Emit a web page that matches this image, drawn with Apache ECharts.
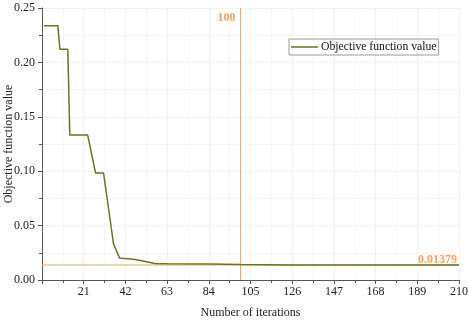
<!DOCTYPE html>
<html><head><meta charset="utf-8">
<script src="https://cdn.jsdelivr.net/npm/echarts@6/dist/echarts.min.js"></script>
<style>html,body{margin:0;padding:0;background:#fff}#c{width:469px;height:320px}</style>
</head><body><div id="c"></div>
<script>
const iterations = [1, 8, 9, 13, 14, 23, 27, 31, 36, 39, 47, 57, 63, 84, 100, 126, 147, 210];
const objectiveValues = [0.2338, 0.2338, 0.2121, 0.2121, 0.1332, 0.1332, 0.0983, 0.0983, 0.0333, 0.0203, 0.0188, 0.0152, 0.0149, 0.0146, 0.0143, 0.0139, 0.01379, 0.01379];
const markIteration = 100;
const markValue = 0.01379;
const seriesName = 'Objective function value';

const FONT = '"Liberation Serif", "Times New Roman", serif';
const ORANGE = '#f0a35e';
const OLIVE = '#66761c';
const chart = echarts.init(document.getElementById('c'), null, {renderer: 'canvas'});
chart.setOption({
  animation: false,
  backgroundColor: '#fff',
  grid: {left: 42, right: 10, top: 8, bottom: 40, containLabel: false, outerBoundsMode: 'none'},
  legend: {
    data: [seriesName], left: 289, top: 39, orient: 'horizontal',
    icon: 'rect', itemWidth: 27, itemHeight: 1.5, itemGap: 4,
    borderColor: '#9a9a9a', borderWidth: 1, padding: [2, 2, 2, 2],
    textStyle: {fontFamily: FONT, fontSize: 11.7, color: '#111', padding: [0, 0, 0, -2]}
  },
  xAxis: {
    type: 'value', min: 0, max: 210, interval: 21,
    name: 'Number of iterations', nameLocation: 'middle', nameGap: 27, nameMoveOverlap: false,
    nameTextStyle: {fontFamily: FONT, fontSize: 12, color: '#222'},
    axisLine: {lineStyle: {color: '#555', width: 1}},
    axisTick: {show: true, length: 4, lineStyle: {color: '#555'}},
    minorTick: {show: true, splitNumber: 2, length: 3, lineStyle: {color: '#555'}},
    axisLabel: {fontFamily: FONT, fontSize: 12, color: '#222', margin: 6,
      formatter: v => v === 0 ? '' : String(v)},
    splitLine: {show: true, lineStyle: {color: '#f0f0f0', width: 1}},
    minorSplitLine: {show: true, lineStyle: {color: '#f5f5f5', width: 1}}
  },
  yAxis: {
    type: 'value', min: 0, max: 0.25, interval: 0.05,
    name: 'Objective function value', nameLocation: 'middle', nameGap: 27, nameMoveOverlap: false,
    nameTextStyle: {fontFamily: FONT, fontSize: 12, color: '#222'},
    axisLine: {show: true, lineStyle: {color: '#555', width: 1}},
    axisTick: {show: true, length: 4, lineStyle: {color: '#555'}},
    minorTick: {show: true, splitNumber: 2, length: 3, lineStyle: {color: '#555'}},
    axisLabel: {fontFamily: FONT, fontSize: 12, color: '#222', margin: 7,
      formatter: v => v.toFixed(2)},
    splitLine: {show: true, lineStyle: {color: '#f0f0f0', width: 1}},
    minorSplitLine: {show: true, lineStyle: {color: '#f5f5f5', width: 1}}
  },
  series: [
    {
      name: 'hline', type: 'line', symbol: 'none', silent: true, z: 2,
      data: [[0, markValue], [210, markValue]],
      lineStyle: {color: ORANGE, width: 1}, itemStyle: {color: ORANGE},
      endLabel: {show: true, formatter: String(markValue), color: ORANGE, fontFamily: FONT,
        fontWeight: 'bold', fontSize: 12, offset: [-49, -5]}
    },
    {
      name: 'vline', type: 'line', symbol: 'none', silent: true, z: 2,
      data: [[markIteration, 0], [markIteration, 0.25]],
      lineStyle: {color: ORANGE, width: 1}, itemStyle: {color: ORANGE},
      endLabel: {show: true, formatter: String(markIteration), color: ORANGE, fontFamily: FONT,
        fontWeight: 'bold', fontSize: 12, offset: [-31, 10]}
    },
    {
      name: seriesName, type: 'line', symbol: 'none', z: 3,
      data: iterations.map((x, i) => [x, objectiveValues[i]]),
      lineStyle: {color: OLIVE, width: 1.5}, itemStyle: {color: OLIVE}
    }
  ]
});
</script></body></html>
